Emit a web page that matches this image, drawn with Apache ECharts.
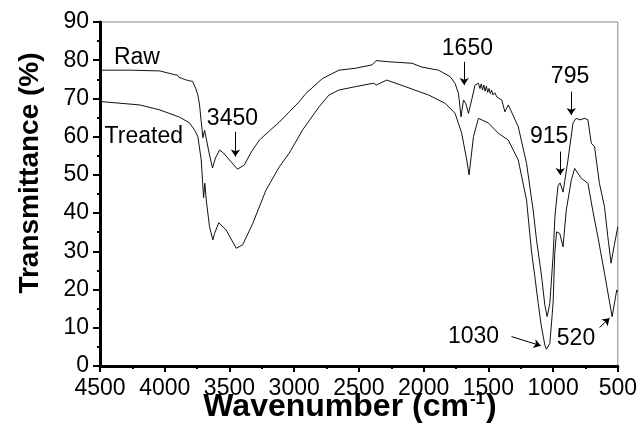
<!DOCTYPE html>
<html>
<head>
<meta charset="utf-8">
<script src="https://cdn.jsdelivr.net/npm/echarts@6/dist/echarts.min.js"></script>
<style>
html,body{margin:0;padding:0;background:#fff;}
#chart{width:640px;height:432px;}
</style>
</head>
<body>
<div id="chart"></div>
<script>
// ---- Data (wavenumber in cm-1, transmittance in %) ----
const rawWavenumber = [4500,4269,4038,3923,3910,3900,3890,3880,3870,3860,3850,3840,3830,3820,3808,3795,3785,3762,3744,3731,3718,3705,3692,3677,3654,3631,3608,3577,3546,3500,3438,3385,3331,3269,3192,3115,3038,2962,2910,2782,2654,2525,2397,2368,2269,2090,2013,1885,1795,1757,1731,1711,1692,1674,1654,1629,1603,1577,1565,1555,1545,1535,1525,1515,1505,1495,1485,1475,1465,1450,1435,1423,1397,1372,1346,1269,1205,1154,1128,1090,1064,1046,1025,1000,985,962,946,923,885,846,823,792,756,731,705,680,642,603,577,552,527,500];
const rawValue = [77.4,77.4,77.2,76.2,75.8,76.1,75.5,75.9,75.3,75.6,75.0,75.4,74.8,75.1,74.6,74.9,74.5,72.7,70.9,68.3,63.9,59.7,61.7,59.1,55.2,51.8,54.4,56.5,55.7,53.9,51.5,52.6,56.0,59.1,61.5,63.8,66.5,69.1,71.3,75.2,77.4,77.9,78.8,79.9,79.6,79.2,78.2,77.4,75.7,73.9,71.3,65.2,69.6,68.7,66.1,69.6,73.5,74.0,72.6,73.8,72.2,73.5,71.9,73.2,71.6,72.6,71.3,72.2,70.9,71.5,70.4,70.5,69.6,66.5,68.3,62.6,53.0,40.8,33.0,23.8,16.0,12.9,16.4,28.8,39.5,47.1,47.9,45.5,53.9,63.6,64.8,64.4,64.8,64.4,58.3,57.4,47.8,41.7,33.8,26.9,31.7,36.4];

const treatedWavenumber = [4500,4192,4038,3885,3808,3769,3744,3718,3705,3700,3690,3679,3654,3628,3615,3582,3526,3448,3398,3320,3218,3115,3038,2936,2808,2731,2654,2525,2385,2367,2285,2142,1962,1833,1757,1706,1667,1649,1615,1577,1500,1423,1346,1269,1205,1167,1141,1115,1092,1064,1052,1025,1000,987,973,949,923,898,859,833,808,782,731,692,654,603,544,508,500];
const treatedValue = [69.2,68.3,67.0,65.1,63.6,61.7,60.0,53.9,46.9,44.0,47.8,43.4,36.4,33.0,34.7,37.5,35.6,30.8,31.7,37.3,46.0,52.1,55.7,61.7,67.8,70.9,72.2,73.1,74.0,73.5,74.8,73.1,70.9,68.7,66.1,60.9,53.9,50.0,60.0,64.8,63.6,60.9,59.1,53.9,43.4,30.1,23.4,16.4,10.7,5.5,4.4,5.9,16.4,29.5,35.1,34.7,31.2,40.8,48.7,51.7,50.4,49.1,47.8,40.4,33.8,24.3,12.9,19.9,19.4];

// axis ticks
const xMin = 500, xMax = 4500, xStep = 500;
const yMin = 0, yMax = 90, yStep = 10;

// annotation texts and their anchor points (data coordinates)
const noteText = ['Raw','Treated','3450','1650','915','795','1030','520'];
const noteWavenumber = [4215,4162,3477,1662,1031,869,1615,823];
const noteValue = [80.6,59.9,64.6,82.9,59.9,75.6,7.8,7.1];

// arrows (data coordinates)
const arrowFromW = [3454,1687,945,860,1321,641];
const arrowFromV = [61.3,79.6,56.1,71.8,7.7,10.1];
const arrowToW   = [3454,1687,945,860,1095,564];
const arrowToV   = [54.8,73.5,50.0,65.7,5.3,12.5];

const FONT = '"Liberation Sans", Arial, Helvetica, sans-serif';

const rawData = rawWavenumber.map((w,i)=>[w, rawValue[i]]);
const treatedData = treatedWavenumber.map((w,i)=>[w, treatedValue[i]]);

const chart = echarts.init(document.getElementById('chart'), null, {renderer:'canvas'});
chart.setOption({
  animation: false,
  backgroundColor: '#fff',
  grid: { left: 100, right: 19, top: 22, bottom: 66, show: true, borderColor: '#8a8a8a', borderWidth: 1, backgroundColor: 'transparent' },
  xAxis: {
    type: 'value', inverse: true, min: xMin, max: xMax, interval: xStep,
    axisLine: { show: true, onZero: false, lineStyle: { color: '#000', width: 3 } },
    axisTick: { show: true, inside: false, length: 6, lineStyle: { color: '#000', width: 2 } },
    minorTick: { show: true, splitNumber: 2, length: 3, lineStyle: { color: '#000', width: 2 } },
    splitLine: { show: false },
    axisLabel: { color: '#000', fontSize: 23, fontFamily: FONT, margin: 11, showMinLabel: true, showMaxLabel: true,
                 formatter: v => String(v) }
  },
  yAxis: {
    type: 'value', min: yMin, max: yMax, interval: yStep,
    axisLine: { show: true, onZero: false, lineStyle: { color: '#000', width: 3 } },
    axisTick: { show: true, inside: false, length: 7, lineStyle: { color: '#000', width: 2 } },
    minorTick: { show: true, splitNumber: 2, length: 3, lineStyle: { color: '#000', width: 2 } },
    splitLine: { show: false },
    axisLabel: { color: '#000', fontSize: 23, fontFamily: FONT, margin: 11, formatter: v => String(v) }
  },
  graphic: [
    { type: 'text', x: 30, y: 173, rotation: Math.PI/2, silent: true,
      style: { text: 'Transmittance (%)', font: 'bold 28px ' + FONT, fill: '#000', align: 'center', verticalAlign: 'middle' } },
    { type: 'text', x: 350, y: 407, silent: true,
      style: { text: '{a|Wavenumber (cm}{s|-1}{a|)}', align: 'center', verticalAlign: 'middle', fill: '#000',
        rich: { a: { font: 'bold 32px ' + FONT, fill: '#000' },
                s: { font: 'bold 17px ' + FONT, fill: '#000', verticalAlign: 'top', padding: [0,1,16,1] } } } }
  ],
  series: [
    { name: 'Raw', type: 'line', data: rawData, showSymbol: false, silent: true,
      lineStyle: { color: '#111', width: 1 },
      markLine: {
        silent: true, symbol: ['none','arrow'], symbolSize: 7,
        lineStyle: { color: '#000', width: 1, type: 'solid' },
        label: { show: false },
        data: arrowFromW.map((w,i)=>[{coord:[w, arrowFromV[i]]},{coord:[arrowToW[i], arrowToV[i]]}])
      },
      markPoint: {
        silent: true, symbol: 'circle', symbolSize: 0,
        label: { show: true, position: 'inside', formatter: '{b}', color: '#000', fontSize: 23, fontFamily: FONT },
        data: noteText.map((t,i)=>({ name: t, coord: [noteWavenumber[i], noteValue[i]] }))
      }
    },
    { name: 'Treated', type: 'line', data: treatedData, showSymbol: false, silent: true,
      lineStyle: { color: '#111', width: 1 } }
  ]
});
</script>
</body>
</html>
